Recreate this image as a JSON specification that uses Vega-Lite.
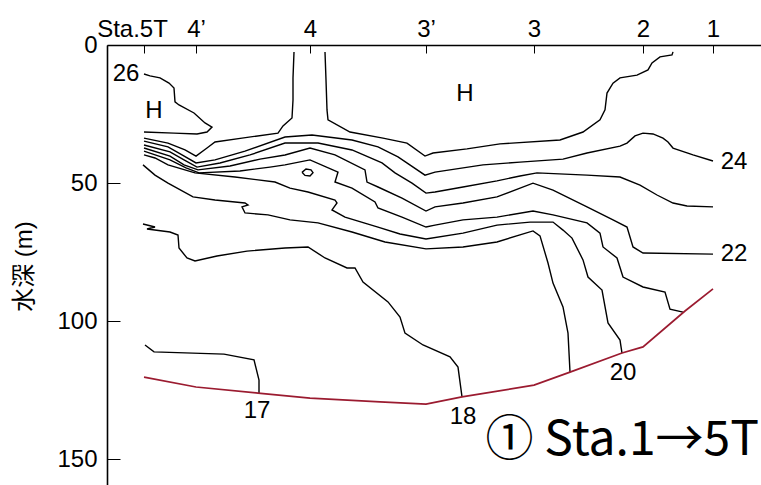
{
  "$schema": "https://vega.github.io/schema/vega-lite/v6.json",
  "autosize": "none",
  "padding": {"left": 107, "top": 45, "right": 0, "bottom": 0},
  "width": 654,
  "height": 442,
  "background": "white",
  "config": {"view": {"stroke": null}},
  "datasets": {
    "contours": [
      {"c":"26","i":0,"x":37,"d":10.5},{"c":"26","i":1,"x":43,"d":11.2},{"c":"26","i":2,"x":53,"d":11.9},{"c":"26","i":3,"x":62,"d":13.8},{"c":"26","i":4,"x":67,"d":15.6},{"c":"26","i":5,"x":68,"d":20.6},{"c":"26","i":6,"x":72,"d":21.7},{"c":"26","i":7,"x":87,"d":24.6},{"c":"26","i":8,"x":98,"d":28.2},{"c":"26","i":9,"x":105,"d":29.7},{"c":"26","i":10,"x":100,"d":31.5},{"c":"26","i":11,"x":90,"d":32.2},{"c":"26","i":12,"x":67,"d":31.9},{"c":"26","i":13,"x":37,"d":31.5},
      {"c":"25a","i":0,"x":37,"d":33.7},{"c":"25a","i":1,"x":61,"d":35.5},{"c":"25a","i":2,"x":78,"d":38.0},{"c":"25a","i":3,"x":89,"d":40.2},{"c":"25a","i":4,"x":100,"d":37.3},{"c":"25a","i":5,"x":108,"d":35.1},{"c":"25a","i":6,"x":135,"d":33.7},{"c":"25a","i":7,"x":171,"d":31.9},{"c":"25a","i":8,"x":176,"d":29.3},{"c":"25a","i":9,"x":185,"d":26.4},{"c":"25a","i":10,"x":186,"d":19.9},{"c":"25a","i":11,"x":186,"d":11.9},{"c":"25a","i":12,"x":187,"d":2.5},
      {"c":"25b","i":0,"x":218,"d":2.5},{"c":"25b","i":1,"x":219,"d":12.7},{"c":"25b","i":2,"x":220,"d":23.5},{"c":"25b","i":3,"x":221,"d":27.1},{"c":"25b","i":4,"x":243,"d":31.5},{"c":"25b","i":5,"x":276,"d":33.7},{"c":"25b","i":6,"x":300,"d":35.5},{"c":"25b","i":7,"x":318,"d":40.2},{"c":"25b","i":8,"x":326,"d":39.1},{"c":"25b","i":9,"x":360,"d":37.6},{"c":"25b","i":10,"x":393,"d":35.8},{"c":"25b","i":11,"x":453,"d":34.4},{"c":"25b","i":12,"x":476,"d":31.5},{"c":"25b","i":13,"x":493,"d":27.1},{"c":"25b","i":14,"x":498,"d":23.5},{"c":"25b","i":15,"x":500,"d":17.4},{"c":"25b","i":16,"x":506,"d":13.8},{"c":"25b","i":17,"x":513,"d":11.9},{"c":"25b","i":18,"x":530,"d":10.9},{"c":"25b","i":19,"x":541,"d":9.0},{"c":"25b","i":20,"x":545,"d":6.5},{"c":"25b","i":21,"x":553,"d":4.3},{"c":"25b","i":22,"x":565,"d":3.6},{"c":"25b","i":23,"x":566,"d":2.5},
      {"c":"24","i":0,"x":37,"d":34.8},{"c":"24","i":1,"x":61,"d":36.9},{"c":"24","i":2,"x":75,"d":39.8},{"c":"24","i":3,"x":89,"d":42.7},{"c":"24","i":4,"x":108,"d":41.6},{"c":"24","i":5,"x":138,"d":38.4},{"c":"24","i":6,"x":178,"d":33.3},{"c":"24","i":7,"x":205,"d":32.6},{"c":"24","i":8,"x":245,"d":34.4},{"c":"24","i":9,"x":271,"d":36.9},{"c":"24","i":10,"x":291,"d":40.5},{"c":"24","i":11,"x":318,"d":47.1},{"c":"24","i":12,"x":328,"d":46.0},{"c":"24","i":13,"x":376,"d":43.4},{"c":"24","i":14,"x":413,"d":42.4},{"c":"24","i":15,"x":456,"d":41.3},{"c":"24","i":16,"x":480,"d":39.1},{"c":"24","i":17,"x":513,"d":36.6},{"c":"24","i":18,"x":520,"d":35.5},{"c":"24","i":19,"x":528,"d":32.9},{"c":"24","i":20,"x":536,"d":31.9},{"c":"24","i":21,"x":546,"d":32.2},{"c":"24","i":22,"x":556,"d":33.7},{"c":"24","i":23,"x":561,"d":35.1},{"c":"24","i":24,"x":566,"d":37.3},{"c":"24","i":25,"x":586,"d":39.8},{"c":"24","i":26,"x":606,"d":42.0},
      {"c":"23","i":0,"x":37,"d":36.2},{"c":"23","i":1,"x":63,"d":38.7},{"c":"23","i":2,"x":77,"d":41.6},{"c":"23","i":3,"x":90,"d":44.2},{"c":"23","i":4,"x":113,"d":42.7},{"c":"23","i":5,"x":143,"d":39.8},{"c":"23","i":6,"x":178,"d":35.5},{"c":"23","i":7,"x":211,"d":35.5},{"c":"23","i":8,"x":245,"d":38.0},{"c":"23","i":9,"x":275,"d":42.7},{"c":"23","i":10,"x":288,"d":46.3},{"c":"23","i":11,"x":305,"d":50.0},{"c":"23","i":12,"x":319,"d":53.6},{"c":"23","i":13,"x":328,"d":53.2},{"c":"23","i":14,"x":356,"d":51.4},{"c":"23","i":15,"x":390,"d":49.2},{"c":"23","i":16,"x":413,"d":47.4},{"c":"23","i":17,"x":430,"d":46.3},{"c":"23","i":18,"x":480,"d":47.1},{"c":"23","i":19,"x":513,"d":47.8},{"c":"23","i":20,"x":533,"d":50.7},{"c":"23","i":21,"x":550,"d":54.3},{"c":"23","i":22,"x":566,"d":57.2},{"c":"23","i":23,"x":580,"d":58.3},{"c":"23","i":24,"x":606,"d":58.6},
      {"c":"22","i":0,"x":37,"d":37.3},{"c":"22","i":1,"x":63,"d":40.2},{"c":"22","i":2,"x":77,"d":43.4},{"c":"22","i":3,"x":91,"d":45.2},{"c":"22","i":4,"x":123,"d":43.8},{"c":"22","i":5,"x":153,"d":41.3},{"c":"22","i":6,"x":178,"d":39.8},{"c":"22","i":7,"x":203,"d":37.3},{"c":"22","i":8,"x":228,"d":39.8},{"c":"22","i":9,"x":258,"d":45.2},{"c":"22","i":10,"x":260,"d":49.6},{"c":"22","i":11,"x":271,"d":51.4},{"c":"22","i":12,"x":295,"d":55.4},{"c":"22","i":13,"x":319,"d":60.1},{"c":"22","i":14,"x":328,"d":58.6},{"c":"22","i":15,"x":356,"d":57.2},{"c":"22","i":16,"x":390,"d":55.0},{"c":"22","i":17,"x":426,"d":50.0},{"c":"22","i":18,"x":446,"d":52.5},{"c":"22","i":19,"x":480,"d":58.6},{"c":"22","i":20,"x":506,"d":63.3},{"c":"22","i":21,"x":520,"d":65.9},{"c":"22","i":22,"x":526,"d":73.1},{"c":"22","i":23,"x":536,"d":75.3},{"c":"22","i":24,"x":606,"d":75.7},
      {"c":"21","i":0,"x":37,"d":38.4},{"c":"21","i":1,"x":63,"d":41.6},{"c":"21","i":2,"x":79,"d":44.5},{"c":"21","i":3,"x":92,"d":46.3},{"c":"21","i":4,"x":133,"d":45.6},{"c":"21","i":5,"x":163,"d":44.2},{"c":"21","i":6,"x":178,"d":43.4},{"c":"21","i":7,"x":203,"d":41.6},{"c":"21","i":8,"x":231,"d":46.0},{"c":"21","i":9,"x":228,"d":49.6},{"c":"21","i":10,"x":245,"d":51.8},{"c":"21","i":11,"x":268,"d":56.8},{"c":"21","i":12,"x":271,"d":59.0},{"c":"21","i":13,"x":295,"d":62.3},{"c":"21","i":14,"x":319,"d":65.9},{"c":"21","i":15,"x":328,"d":65.2},{"c":"21","i":16,"x":356,"d":63.3},{"c":"21","i":17,"x":390,"d":62.3},{"c":"21","i":18,"x":426,"d":60.1},{"c":"21","i":19,"x":446,"d":61.5},{"c":"21","i":20,"x":480,"d":64.4},{"c":"21","i":21,"x":493,"d":68.1},{"c":"21","i":22,"x":496,"d":73.1},{"c":"21","i":23,"x":510,"d":77.1},{"c":"21","i":24,"x":516,"d":84.0},{"c":"21","i":25,"x":536,"d":87.6},{"c":"21","i":26,"x":558,"d":89.4},{"c":"21","i":27,"x":563,"d":95.6},{"c":"21","i":28,"x":576,"d":96.7},
      {"c":"20","i":0,"x":37,"d":39.8},{"c":"20","i":1,"x":48,"d":40.9},{"c":"20","i":2,"x":61,"d":43.4},{"c":"20","i":3,"x":88,"d":46.3},{"c":"20","i":4,"x":128,"d":47.8},{"c":"20","i":5,"x":168,"d":49.6},{"c":"20","i":6,"x":183,"d":51.8},{"c":"20","i":7,"x":201,"d":53.2},{"c":"20","i":8,"x":228,"d":56.1},{"c":"20","i":9,"x":230,"d":57.2},{"c":"20","i":10,"x":225,"d":59.7},{"c":"20","i":11,"x":238,"d":62.3},{"c":"20","i":12,"x":271,"d":65.9},{"c":"20","i":13,"x":293,"d":68.4},{"c":"20","i":14,"x":319,"d":70.2},{"c":"20","i":15,"x":356,"d":68.1},{"c":"20","i":16,"x":390,"d":65.2},{"c":"20","i":17,"x":423,"d":64.1},{"c":"20","i":18,"x":446,"d":64.1},{"c":"20","i":19,"x":456,"d":67.0},{"c":"20","i":20,"x":465,"d":69.9},{"c":"20","i":21,"x":476,"d":77.8},{"c":"20","i":22,"x":481,"d":84.0},{"c":"20","i":23,"x":495,"d":88.7},{"c":"20","i":24,"x":501,"d":100.6},{"c":"20","i":25,"x":513,"d":106.8},{"c":"20","i":26,"x":515,"d":111.5},
      {"c":"19","i":0,"x":36,"d":43.4},{"c":"19","i":1,"x":48,"d":47.1},{"c":"19","i":2,"x":61,"d":50.0},{"c":"19","i":3,"x":86,"d":55.0},{"c":"19","i":4,"x":108,"d":56.1},{"c":"19","i":5,"x":138,"d":57.2},{"c":"19","i":6,"x":141,"d":57.9},{"c":"19","i":7,"x":135,"d":58.6},{"c":"19","i":8,"x":138,"d":60.8},{"c":"19","i":9,"x":161,"d":61.5},{"c":"19","i":10,"x":183,"d":63.3},{"c":"19","i":11,"x":211,"d":64.4},{"c":"19","i":12,"x":245,"d":67.7},{"c":"19","i":13,"x":278,"d":71.3},{"c":"19","i":14,"x":319,"d":73.8},{"c":"19","i":15,"x":356,"d":73.1},{"c":"19","i":16,"x":390,"d":71.3},{"c":"19","i":17,"x":426,"d":67.3},{"c":"19","i":18,"x":433,"d":69.1},{"c":"19","i":19,"x":441,"d":78.9},{"c":"19","i":20,"x":446,"d":86.2},{"c":"19","i":21,"x":456,"d":94.8},{"c":"19","i":22,"x":461,"d":104.3},{"c":"19","i":23,"x":463,"d":118.4},
      {"c":"18","i":0,"x":36,"d":64.8},{"c":"18","i":1,"x":48,"d":65.9},{"c":"18","i":2,"x":40,"d":66.6},{"c":"18","i":3,"x":63,"d":67.7},{"c":"18","i":4,"x":71,"d":68.8},{"c":"18","i":5,"x":72,"d":73.5},{"c":"18","i":6,"x":80,"d":77.1},{"c":"18","i":7,"x":88,"d":78.2},{"c":"18","i":8,"x":110,"d":76.4},{"c":"18","i":9,"x":140,"d":74.6},{"c":"18","i":10,"x":178,"d":73.5},{"c":"18","i":11,"x":201,"d":73.1},{"c":"18","i":12,"x":218,"d":77.1},{"c":"18","i":13,"x":240,"d":80.7},{"c":"18","i":14,"x":248,"d":80.7},{"c":"18","i":15,"x":256,"d":85.8},{"c":"18","i":16,"x":281,"d":93.0},{"c":"18","i":17,"x":293,"d":98.5},{"c":"18","i":18,"x":298,"d":104.3},{"c":"18","i":19,"x":316,"d":108.6},{"c":"18","i":20,"x":343,"d":112.9},{"c":"18","i":21,"x":351,"d":116.6},{"c":"18","i":22,"x":355,"d":127.4},
      {"c":"17","i":0,"x":38,"d":108.6},{"c":"17","i":1,"x":47,"d":111.1},{"c":"17","i":2,"x":117,"d":111.9},{"c":"17","i":3,"x":147,"d":114.0},{"c":"17","i":4,"x":152,"d":121.3},{"c":"17","i":5,"x":152,"d":126.0},
      {"c":"loop","i":0,"x":195,"d":46.1},{"c":"loop","i":1,"x":199,"d":44.9},{"c":"loop","i":2,"x":204,"d":45.2},{"c":"loop","i":3,"x":206,"d":46.2},{"c":"loop","i":4,"x":203,"d":47.4},{"c":"loop","i":5,"x":198,"d":47.2},{"c":"loop","i":6,"x":195,"d":46.1}
    ],
    "bottom": [
      {"i":0,"x":37,"d":120.2},{"i":1,"x":89,"d":123.8},{"i":2,"x":151,"d":126.0},{"i":3,"x":203,"d":127.8},{"i":4,"x":273,"d":129.2},{"i":5,"x":319,"d":130.0},{"i":6,"x":355,"d":127.4},{"i":7,"x":427,"d":123.1},{"i":8,"x":463,"d":118.4},{"i":9,"x":515,"d":111.5},{"i":10,"x":536,"d":109.3},{"i":11,"x":578,"d":96.3},{"i":12,"x":606,"d":88.3}
    ],
    "labels": [
      {"t":"26","x":19,"d":10.5},{"t":"H","x":47,"d":23.9},{"t":"H","x":358,"d":17.7},{"t":"24","x":627,"d":42.4},{"t":"22","x":627,"d":75.7},{"t":"20","x":516,"d":118.7},{"t":"18","x":356,"d":134.7},{"t":"17","x":150,"d":132.5}
    ],
    "title": [
      {"t":"① Sta.1→5T","x":652,"d":143.3}
    ]
  },
  "encoding": {
    "x": {
      "field": "x", "type": "quantitative",
      "scale": {"domain": [0, 654], "nice": false, "zero": false},
      "axis": {
        "orient": "top", "title": null, "grid": false,
        "values": [37, 89, 203, 319, 427, 536, 606],
        "labelExpr": "datum.value==37?'Sta.5T':datum.value==89?'4’':datum.value==203?'4':datum.value==319?'3’':datum.value==427?'3':datum.value==536?'2':'1'",
        "labelFont": "Liberation Sans", "labelFontSize": 24, "labelColor": "black",
        "labelOffset": {"condition": {"test": "datum.value == 37", "value": -12}, "value": 0},
        "tickSize": -8, "tickColor": "black", "tickWidth": 1,
        "labelPadding": 12,
        "domainColor": "black", "domainWidth": 1.6
      }
    },
    "y": {
      "field": "d", "type": "quantitative",
      "scale": {"domain": [0, 160], "reverse": true, "nice": false, "zero": false},
      "axis": {
        "orient": "left", "title": "水深 (m)", "grid": false,
        "values": [0, 50, 100, 150],
        "labelFont": "Liberation Sans", "labelFontSize": 24, "labelColor": "black",
        "tickSize": -13, "tickColor": "black", "tickWidth": 1,
        "labelPadding": 23,
        "titleFont": "Liberation Sans, Noto Sans CJK JP", "titleFontSize": 24, "titleFontWeight": "normal", "titleColor": "black",
        "titlePadding": 20,
        "domainColor": "black", "domainWidth": 1.6
      }
    }
  },
  "layer": [
    {
      "data": {"name": "contours"},
      "mark": {"type": "line", "color": "black", "strokeWidth": 1.4, "interpolate": "linear"},
      "encoding": {"detail": {"field": "c"}, "order": {"field": "i", "type": "quantitative"}}
    },
    {
      "data": {"name": "bottom"},
      "mark": {"type": "line", "color": "#9b1b30", "strokeWidth": 1.7},
      "encoding": {"order": {"field": "i", "type": "quantitative"}}
    },
    {
      "data": {"name": "labels"},
      "mark": {"type": "text", "font": "Liberation Sans", "fontSize": 24, "color": "black", "align": "center", "baseline": "middle"},
      "encoding": {"text": {"field": "t"}}
    },
    {
      "data": {"name": "title"},
      "mark": {"type": "text", "font": "Noto Sans CJK JP", "fontSize": 48, "color": "black", "align": "right", "baseline": "middle"},
      "encoding": {"text": {"field": "t"}}
    }
  ]
}
